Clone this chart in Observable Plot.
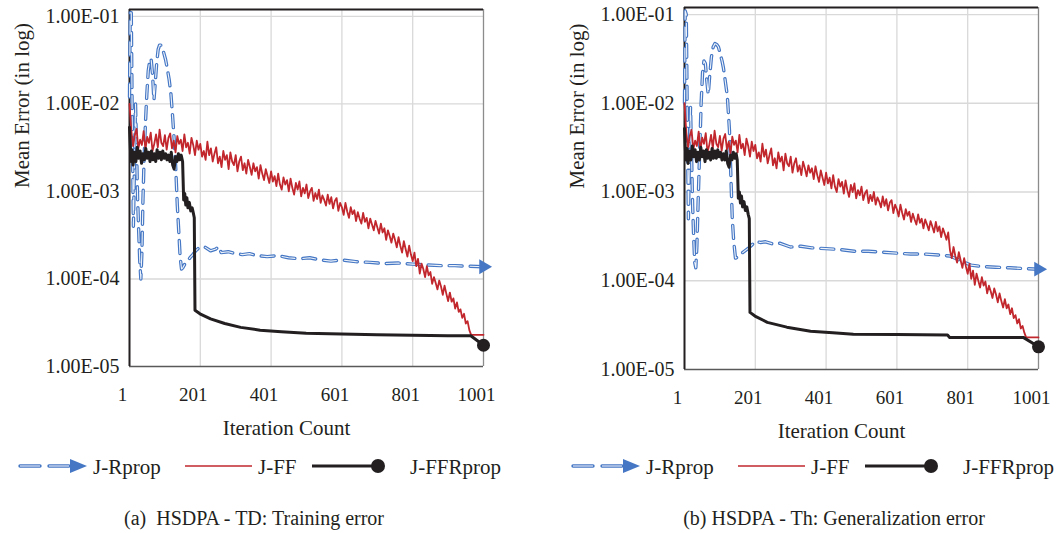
<!DOCTYPE html>
<html>
<head>
<meta charset="utf-8">
<script src="https://cdn.jsdelivr.net/npm/d3@7"></script>
<script src="https://cdn.jsdelivr.net/npm/@observablehq/plot@0.6"></script>
<style>
  body { margin: 0; background: #fff; font-family: "Liberation Serif", "DejaVu Serif", serif; color: #231f20; }
  #wrap { position: relative; width: 1064px; height: 533px; overflow: hidden; background: #fff; }
  .panel { position: absolute; top: 0; }
  .caption { position: absolute; top: 506px; font-size: 20px; line-height: 24px; white-space: pre; transform: translateX(-50%); }
</style>
</head>
<body>
<div id="wrap"></div>
<script>
// ---------- data ----------
const xTicks = [1, 201, 401, 601, 801, 1001];
const xTickLabels = ["1", "201", "401", "601", "801", "1001"];
const yTicks = [1e-5, 1e-4, 1e-3, 1e-2, 1e-1];
const yTickLabels = ["1.00E-05", "1.00E-04", "1.00E-03", "1.00E-02", "1.00E-01"];
const seriesNames = ["J-Rprop", "J-FF", "J-FFRprop"];
const xTitle = "Iteration Count";
const yTitle = "Mean Error (in log)";
const captions = ["(a)  HSDPA - TD: Training error", "(b) HSDPA - Th: Generalization error"];

// J-FF sampled every 5 iterations (1, 6, 11, ... 1001)
const ffIter = d3.range(1, 1002, 5);
const ffA = [
  1.0e-2,5.0e-3,3.3e-3,4.4e-3,5.2e-3,3.1e-3,3.9e-3,3.4e-3,4.9e-3,3.0e-3,
  4.2e-3,3.6e-3,4.7e-3,2.9e-3,3.5e-3,4.5e-3,3.2e-3,5.1e-3,3.6e-3,3.3e-3,
  4.4e-3,3.0e-3,4.1e-3,4.6e-3,3.1e-3,3.8e-3,2.8e-3,4.3e-3,3.5e-3,3.9e-3,
  2.9e-3,4.5e-3,3.2e-3,3.6e-3,2.7e-3,4.1e-3,3.4e-3,2.6e-3,3.8e-3,3.0e-3,
  3.5e-3,2.5e-3,2.9e-3,2.3e-3,3.7e-3,2.6e-3,3.1e-3,2.2e-3,2.7e-3,3.2e-3,
  2.1e-3,2.5e-3,1.9e-3,2.9e-3,2.3e-3,2.6e-3,1.8e-3,2.8e-3,2.2e-3,2.0e-3,
  2.6e-3,1.7e-3,2.2e-3,2.5e-3,1.75e-3,2.1e-3,1.6e-3,2.3e-3,1.9e-3,1.55e-3,
  2.1e-3,1.7e-3,1.9e-3,1.4e-3,2.0e-3,1.6e-3,1.35e-3,1.8e-3,1.5e-3,1.25e-3,
  1.7e-3,1.3e-3,1.5e-3,1.15e-3,1.6e-3,1.2e-3,1.05e-3,1.45e-3,1.2e-3,1.35e-3,
  1.0e-3,1.4e-3,1.1e-3,9.2e-4,1.25e-3,1.05e-3,1.3e-3,8.8e-4,1.1e-3,9.5e-4,
  1.2e-3,8.4e-4,1.0e-3,1.1e-3,7.8e-4,9.6e-4,8.2e-4,1.05e-3,7.4e-4,9.0e-4,
  8.0e-4,6.9e-4,9.2e-4,7.2e-4,8.6e-4,6.4e-4,7.8e-4,8.4e-4,6.0e-4,7.4e-4,
  6.6e-4,5.4e-4,7.4e-4,5.9e-4,5.0e-4,6.6e-4,5.5e-4,6.1e-4,4.6e-4,5.8e-4,
  4.9e-4,4.3e-4,5.7e-4,4.5e-4,5.0e-4,3.8e-4,4.9e-4,4.2e-4,3.6e-4,4.6e-4,
  3.9e-4,3.3e-4,4.3e-4,3.4e-4,3.8e-4,2.8e-4,3.6e-4,3.1e-4,2.6e-4,3.3e-4,
  2.8e-4,2.3e-4,3.0e-4,2.4e-4,2.0e-4,2.7e-4,2.2e-4,1.8e-4,2.4e-4,1.9e-4,
  1.6e-4,2.0e-4,1.4e-4,1.7e-4,1.15e-4,1.5e-4,1.3e-4,1.05e-4,1.4e-4,1.1e-4,
  1.2e-4,8.8e-5,1.05e-4,9.0e-5,7.6e-5,9.6e-5,8.2e-5,6.6e-5,8.4e-5,6.8e-5,
  5.6e-5,7.0e-5,5.5e-5,6.0e-5,4.6e-5,5.4e-5,4.2e-5,4.5e-5,3.6e-5,4.0e-5,
  3.1e-5,3.3e-5,2.6e-5,2.3e-5,2.3e-5,2.3e-5,2.3e-5,2.3e-5,2.3e-5,2.3e-5,
  2.3e-5
];
const ffB = [
  1.0e-2,4.7e-3,3.2e-3,4.3e-3,5.0e-3,3.0e-3,3.8e-3,3.3e-3,4.8e-3,2.9e-3,
  4.1e-3,3.5e-3,4.6e-3,2.8e-3,3.4e-3,4.4e-3,3.1e-3,4.9e-3,3.5e-3,3.2e-3,
  4.3e-3,2.9e-3,4.0e-3,4.5e-3,3.0e-3,3.7e-3,2.7e-3,4.2e-3,3.4e-3,3.8e-3,
  2.8e-3,4.4e-3,3.1e-3,3.5e-3,2.6e-3,4.0e-3,3.3e-3,2.5e-3,3.7e-3,2.9e-3,
  3.4e-3,2.4e-3,2.8e-3,2.2e-3,3.5e-3,2.5e-3,3.0e-3,2.1e-3,2.6e-3,3.1e-3,
  2.0e-3,2.4e-3,1.85e-3,2.8e-3,2.2e-3,2.5e-3,1.75e-3,2.7e-3,2.1e-3,1.95e-3,
  2.5e-3,1.65e-3,2.1e-3,2.4e-3,1.7e-3,2.0e-3,1.55e-3,2.2e-3,1.85e-3,1.5e-3,
  2.0e-3,1.65e-3,1.85e-3,1.4e-3,1.95e-3,1.55e-3,1.3e-3,1.75e-3,1.45e-3,1.2e-3,
  1.65e-3,1.25e-3,1.45e-3,1.1e-3,1.55e-3,1.15e-3,1.0e-3,1.4e-3,1.15e-3,1.3e-3,
  9.6e-4,1.35e-3,1.05e-3,8.8e-4,1.2e-3,1.0e-3,1.25e-3,8.5e-4,1.05e-3,9.2e-4,
  1.15e-3,8.1e-4,9.7e-4,1.05e-3,7.5e-4,9.3e-4,7.9e-4,1.0e-3,7.2e-4,8.7e-4,
  7.8e-4,6.7e-4,8.9e-4,7.0e-4,8.3e-4,6.2e-4,7.6e-4,8.1e-4,5.8e-4,7.2e-4,
  6.4e-4,5.3e-4,7.2e-4,5.8e-4,4.9e-4,6.4e-4,5.4e-4,6.0e-4,4.6e-4,5.7e-4,
  4.9e-4,4.3e-4,5.6e-4,4.5e-4,5.0e-4,3.9e-4,4.9e-4,4.3e-4,3.7e-4,4.7e-4,
  4.1e-4,3.5e-4,4.6e-4,3.6e-4,4.1e-4,3.1e-4,3.9e-4,3.4e-4,2.9e-4,3.5e-4,
  2.2e-4,1.8e-4,2.4e-4,1.9e-4,1.6e-4,2.1e-4,1.7e-4,1.4e-4,1.8e-4,1.45e-4,
  1.2e-4,1.55e-4,1.05e-4,1.3e-4,9.0e-5,1.2e-4,1.0e-4,8.4e-5,1.1e-4,8.8e-5,
  9.8e-5,7.2e-5,8.8e-5,7.6e-5,6.4e-5,8.2e-5,7.0e-5,5.7e-5,7.2e-5,5.9e-5,
  5.0e-5,6.2e-5,4.9e-5,5.4e-5,4.2e-5,4.9e-5,3.8e-5,4.1e-5,3.3e-5,3.7e-5,
  2.9e-5,3.1e-5,2.6e-5,2.3e-5,2.3e-5,2.3e-5,2.3e-5,2.3e-5,2.3e-5,2.3e-5,
  2.3e-5
];

// J-FFRprop
const ffrIterA = [1,3,5,8,11,15,19,23,27,31,35,39,43,47,51,55,59,63,67,71,75,79,83,87,91,95,99,103,107,111,115,119,123,127,131,135,139,143,147,151,154,157,160,163,166,170,174,178,182,184,186,200,230,270,315,370,430,500,600,700,800,900,965,1001];
const ffrA = [5.4e-3,3.5e-3,2.2e-3,3.0e-3,2.0e-3,2.8e-3,2.2e-3,3.2e-3,2.4e-3,2.9e-3,2.1e-3,2.7e-3,2.3e-3,3.1e-3,2.4e-3,2.8e-3,2.2e-3,2.9e-3,2.3e-3,2.7e-3,2.2e-3,3.0e-3,2.4e-3,2.8e-3,2.3e-3,2.9e-3,2.4e-3,2.7e-3,2.3e-3,2.6e-3,2.2e-3,2.8e-3,2.0e-3,1.8e-3,2.5e-3,2.2e-3,2.7e-3,2.3e-3,2.6e-3,2.2e-3,8.0e-4,9.5e-4,7.0e-4,8.5e-4,6.5e-4,7.5e-4,6.0e-4,6.5e-4,5.5e-4,5.0e-4,4.4e-5,4.0e-5,3.5e-5,3.1e-5,2.8e-5,2.6e-5,2.5e-5,2.4e-5,2.35e-5,2.3e-5,2.28e-5,2.25e-5,2.25e-5,1.75e-5];
const ffrIterB = [1,3,5,8,11,15,19,23,27,31,35,39,43,47,51,55,59,63,67,71,75,79,83,87,91,95,99,103,107,111,115,119,123,127,131,135,139,143,147,150,153,156,159,162,165,169,173,177,181,184,186,200,235,290,357,420,478,600,744,750,958,1001];
const ffrB = [5.2e-3,3.3e-3,2.3e-3,3.1e-3,2.1e-3,2.9e-3,2.3e-3,3.3e-3,2.5e-3,3.0e-3,2.2e-3,2.8e-3,2.3e-3,3.2e-3,2.5e-3,2.9e-3,2.2e-3,3.0e-3,2.4e-3,2.8e-3,2.3e-3,3.1e-3,2.4e-3,2.9e-3,2.4e-3,3.0e-3,2.5e-3,2.8e-3,2.3e-3,2.7e-3,2.3e-3,2.9e-3,2.1e-3,1.9e-3,2.6e-3,2.3e-3,2.8e-3,2.4e-3,2.7e-3,2.3e-3,8.5e-4,1.0e-3,7.5e-4,9.0e-4,6.8e-4,7.8e-4,6.2e-4,6.8e-4,5.6e-4,5.0e-4,4.4e-5,4.0e-5,3.4e-5,3.0e-5,2.7e-5,2.6e-5,2.5e-5,2.48e-5,2.45e-5,2.3e-5,2.3e-5,1.8e-5];

// J-Rprop
const rpIterA = [1,3,6,9,12,15,18,21,24,27,30,33,36,39,42,46,50,54,58,62,66,70,74,78,82,86,90,94,98,103,108,113,118,123,128,132,136,140,144,148,152,158,165,172,180,188,196,205,215,230,245,253,260,280,300,320,340,360,390,420,450,480,510,540,570,600,640,680,720,760,800,840,880,920,960,1001];
const rpA = [1.2e-2,1.1e-1,1.1e-1,5e-3,4e-4,2.0e-3,1.0e-2,3.0e-3,8e-4,3.5e-4,1.6e-4,1.0e-4,2.0e-4,8e-4,2.2e-3,6e-3,1.3e-2,2.4e-2,3.1e-2,3.3e-2,2.2e-2,1.1e-2,1.8e-2,3.0e-2,4.2e-2,4.7e-2,4.7e-2,4.4e-2,3.8e-2,3.2e-2,2.5e-2,1.9e-2,1.3e-2,7e-3,3.5e-3,1.7e-3,7e-4,3.6e-4,1.8e-4,1.3e-4,1.35e-4,1.5e-4,1.6e-4,1.75e-4,1.9e-4,2.1e-4,2.25e-4,2.2e-4,2.3e-4,2.1e-4,2.2e-4,2.35e-4,2.0e-4,2.05e-4,1.95e-4,1.9e-4,1.95e-4,1.85e-4,1.8e-4,1.85e-4,1.75e-4,1.7e-4,1.75e-4,1.65e-4,1.6e-4,1.65e-4,1.58e-4,1.55e-4,1.5e-4,1.52e-4,1.48e-4,1.45e-4,1.42e-4,1.42e-4,1.4e-4,1.38e-4];
const rpIterB = [1,3,6,9,12,15,18,21,24,27,30,33,36,40,44,48,52,56,60,64,68,72,77,82,87,92,97,102,107,111,116,122,128,132,136,140,145,152,160,170,180,190,202,215,230,250,270,300,330,360,400,440,480,520,560,600,640,680,720,750,780,810,840,880,920,960,1001];
const rpB = [1.0e-2,1.1e-1,1.0e-1,6e-3,5e-4,2.5e-3,9e-3,2.5e-3,7e-4,3.0e-4,1.6e-4,1.4e-4,2.5e-4,9e-4,3e-3,1.0e-2,2.2e-2,3.0e-2,2.8e-2,1.8e-2,1.25e-2,2.0e-2,3.3e-2,4.3e-2,4.7e-2,4.6e-2,4.3e-2,3.6e-2,3.0e-2,2.5e-2,1.8e-2,1.2e-2,5e-3,1.5e-3,5e-4,2.8e-4,1.8e-4,1.85e-4,2.0e-4,2.15e-4,2.3e-4,2.5e-4,2.8e-4,2.7e-4,2.75e-4,2.6e-4,2.65e-4,2.4e-4,2.45e-4,2.35e-4,2.3e-4,2.25e-4,2.15e-4,2.15e-4,2.1e-4,2.05e-4,2.0e-4,2.0e-4,1.95e-4,1.9e-4,1.7e-4,1.5e-4,1.45e-4,1.42e-4,1.4e-4,1.37e-4,1.35e-4];

// ---------- styling ----------
const FONT = '"Liberation Serif", "DejaVu Serif", serif';
const colors = { rprop: "#4577c4", ff: "#c1272d", ffr: "#231f20", inner: "#eef3fa" };

function pts(xs, ys) { return ys.map((y, i) => ({ x: xs[i], y })); }

function makePanel({ rpIter, rp, ff, ffrIter, ffr, top, bottom }) {
  const H = 450;
  const blue = pts(rpIter, rp), red = pts(ffIter, ff), black = pts(ffrIter, ffr);
  const grid = { stroke: "#d9d9d9", strokeOpacity: 1, strokeWidth: 1.3 };
  return Plot.plot({
    width: 509, height: H,
    marginLeft: 129, marginRight: 26, marginTop: top, marginBottom: H - bottom,
    x: { domain: [1, 1001] },
    y: { type: "log", domain: [1e-5, 0.12] },
    style: { fontFamily: FONT, fontSize: "19px", color: "#231f20", background: "transparent", overflow: "visible" },
    marks: [
      Plot.gridX(xTicks.slice(1, -1), grid),
      Plot.gridY(yTicks.slice(1), grid),
      Plot.ruleX([1001], { stroke: "#8c8c8c", strokeWidth: 1.3 }),
      Plot.ruleY([1e-5], { stroke: "#595959", strokeWidth: 1.6 }),
      Plot.ruleY([0.12], { stroke: "#231f20", strokeWidth: 2 }),
      Plot.ruleX([1], { stroke: "#231f20", strokeWidth: 2 }),
      Plot.axisX(xTicks, { tickSize: 0, tickPadding: 21, dx: -7, label: null, fontSize: 19,
        tickFormat: d => xTickLabels[xTicks.indexOf(d)] }),
      Plot.axisY(yTicks, { tickSize: 0, tickPadding: 10, label: null, fontSize: 20,
        tickFormat: d => yTickLabels[yTicks.indexOf(d)] }),
      Plot.line(blue, { x: "x", y: "y", stroke: colors.rprop, strokeWidth: 3.4, strokeDasharray: "13,8", strokeLinecap: "round", strokeLinejoin: "round" }),
      Plot.line(blue, { x: "x", y: "y", stroke: colors.inner, strokeWidth: 1.1, strokeDasharray: "13,8", strokeLinejoin: "round" }),
      Plot.dot(blue.slice(-1), { x: "x", y: "y", symbol: "triangle", rotate: 90, r: 5.5, fill: colors.rprop, stroke: "none" }),
      Plot.line(red, { x: "x", y: "y", stroke: colors.ff, strokeWidth: 1.8 }),
      Plot.line(black, { x: "x", y: "y", stroke: colors.ffr, strokeWidth: 3 }),
      Plot.dot(black.slice(-1), { x: "x", y: "y", r: 6.5, fill: colors.ffr, stroke: "none" }),
      Plot.text([xTitle], { frameAnchor: "bottom", dy: 68, dx: -20, fontSize: 21 }),
      Plot.text([yTitle], { frameAnchor: "left", dx: -107, rotate: -90, fontSize: 21 })
    ]
  });
}

function addLegend(wrap, left) {
  const svg = d3.select(wrap).append("svg")
    .attr("width", 520).attr("height", 36)
    .style("position", "absolute").style("left", left + "px").style("top", "448px")
    .style("overflow", "visible");
  const cy = 18;
  [[20, 40], [49, 69]].forEach(([a, b]) => {
    svg.append("line").attr("x1", a).attr("x2", b).attr("y1", cy).attr("y2", cy)
      .attr("stroke", colors.rprop).attr("stroke-width", 3.4).attr("stroke-linecap", "round");
    svg.append("line").attr("x1", a).attr("x2", b).attr("y1", cy).attr("y2", cy)
      .attr("stroke", colors.inner).attr("stroke-width", 1.1);
  });
  svg.append("path").attr("d", `M70,${cy - 7}L87,${cy}L70,${cy + 7}Z`).attr("fill", colors.rprop);
  svg.append("line").attr("x1", 185).attr("x2", 252).attr("y1", cy).attr("y2", cy)
    .attr("stroke", colors.ff).attr("stroke-width", 1.5);
  svg.append("line").attr("x1", 312).attr("x2", 378).attr("y1", cy).attr("y2", cy)
    .attr("stroke", colors.ffr).attr("stroke-width", 3);
  svg.append("circle").attr("cx", 378).attr("cy", cy).attr("r", 7).attr("fill", colors.ffr);
  const tx = [93, 258, 410];
  seriesNames.forEach((name, i) => {
    svg.append("text").attr("x", tx[i]).attr("y", cy).attr("dy", "0.36em")
      .attr("font-family", FONT).attr("font-size", 21).attr("fill", "#231f20").text(name);
  });
}

const wrap = document.getElementById("wrap");
const panels = [
  { rpIter: rpIterA, rp: rpA, ff: ffA, ffrIter: ffrIterA, ffr: ffrA, top: 9, bottom: 366, left: 0, legendLeft: 0, capX: 254 },
  { rpIter: rpIterB, rp: rpB, ff: ffB, ffrIter: ffrIterB, ffr: ffrB, top: 7, bottom: 369, left: 555, legendLeft: 553, capX: 834 }
];
panels.forEach((p, i) => {
  const svg = makePanel(p);
  svg.classList.add("panel");
  svg.style.left = p.left + "px";
  wrap.appendChild(svg);
  addLegend(wrap, p.legendLeft);
  const cap = document.createElement("div");
  cap.className = "caption";
  cap.style.left = p.capX + "px";
  cap.textContent = captions[i];
  wrap.appendChild(cap);
});
</script>
</body>
</html>
